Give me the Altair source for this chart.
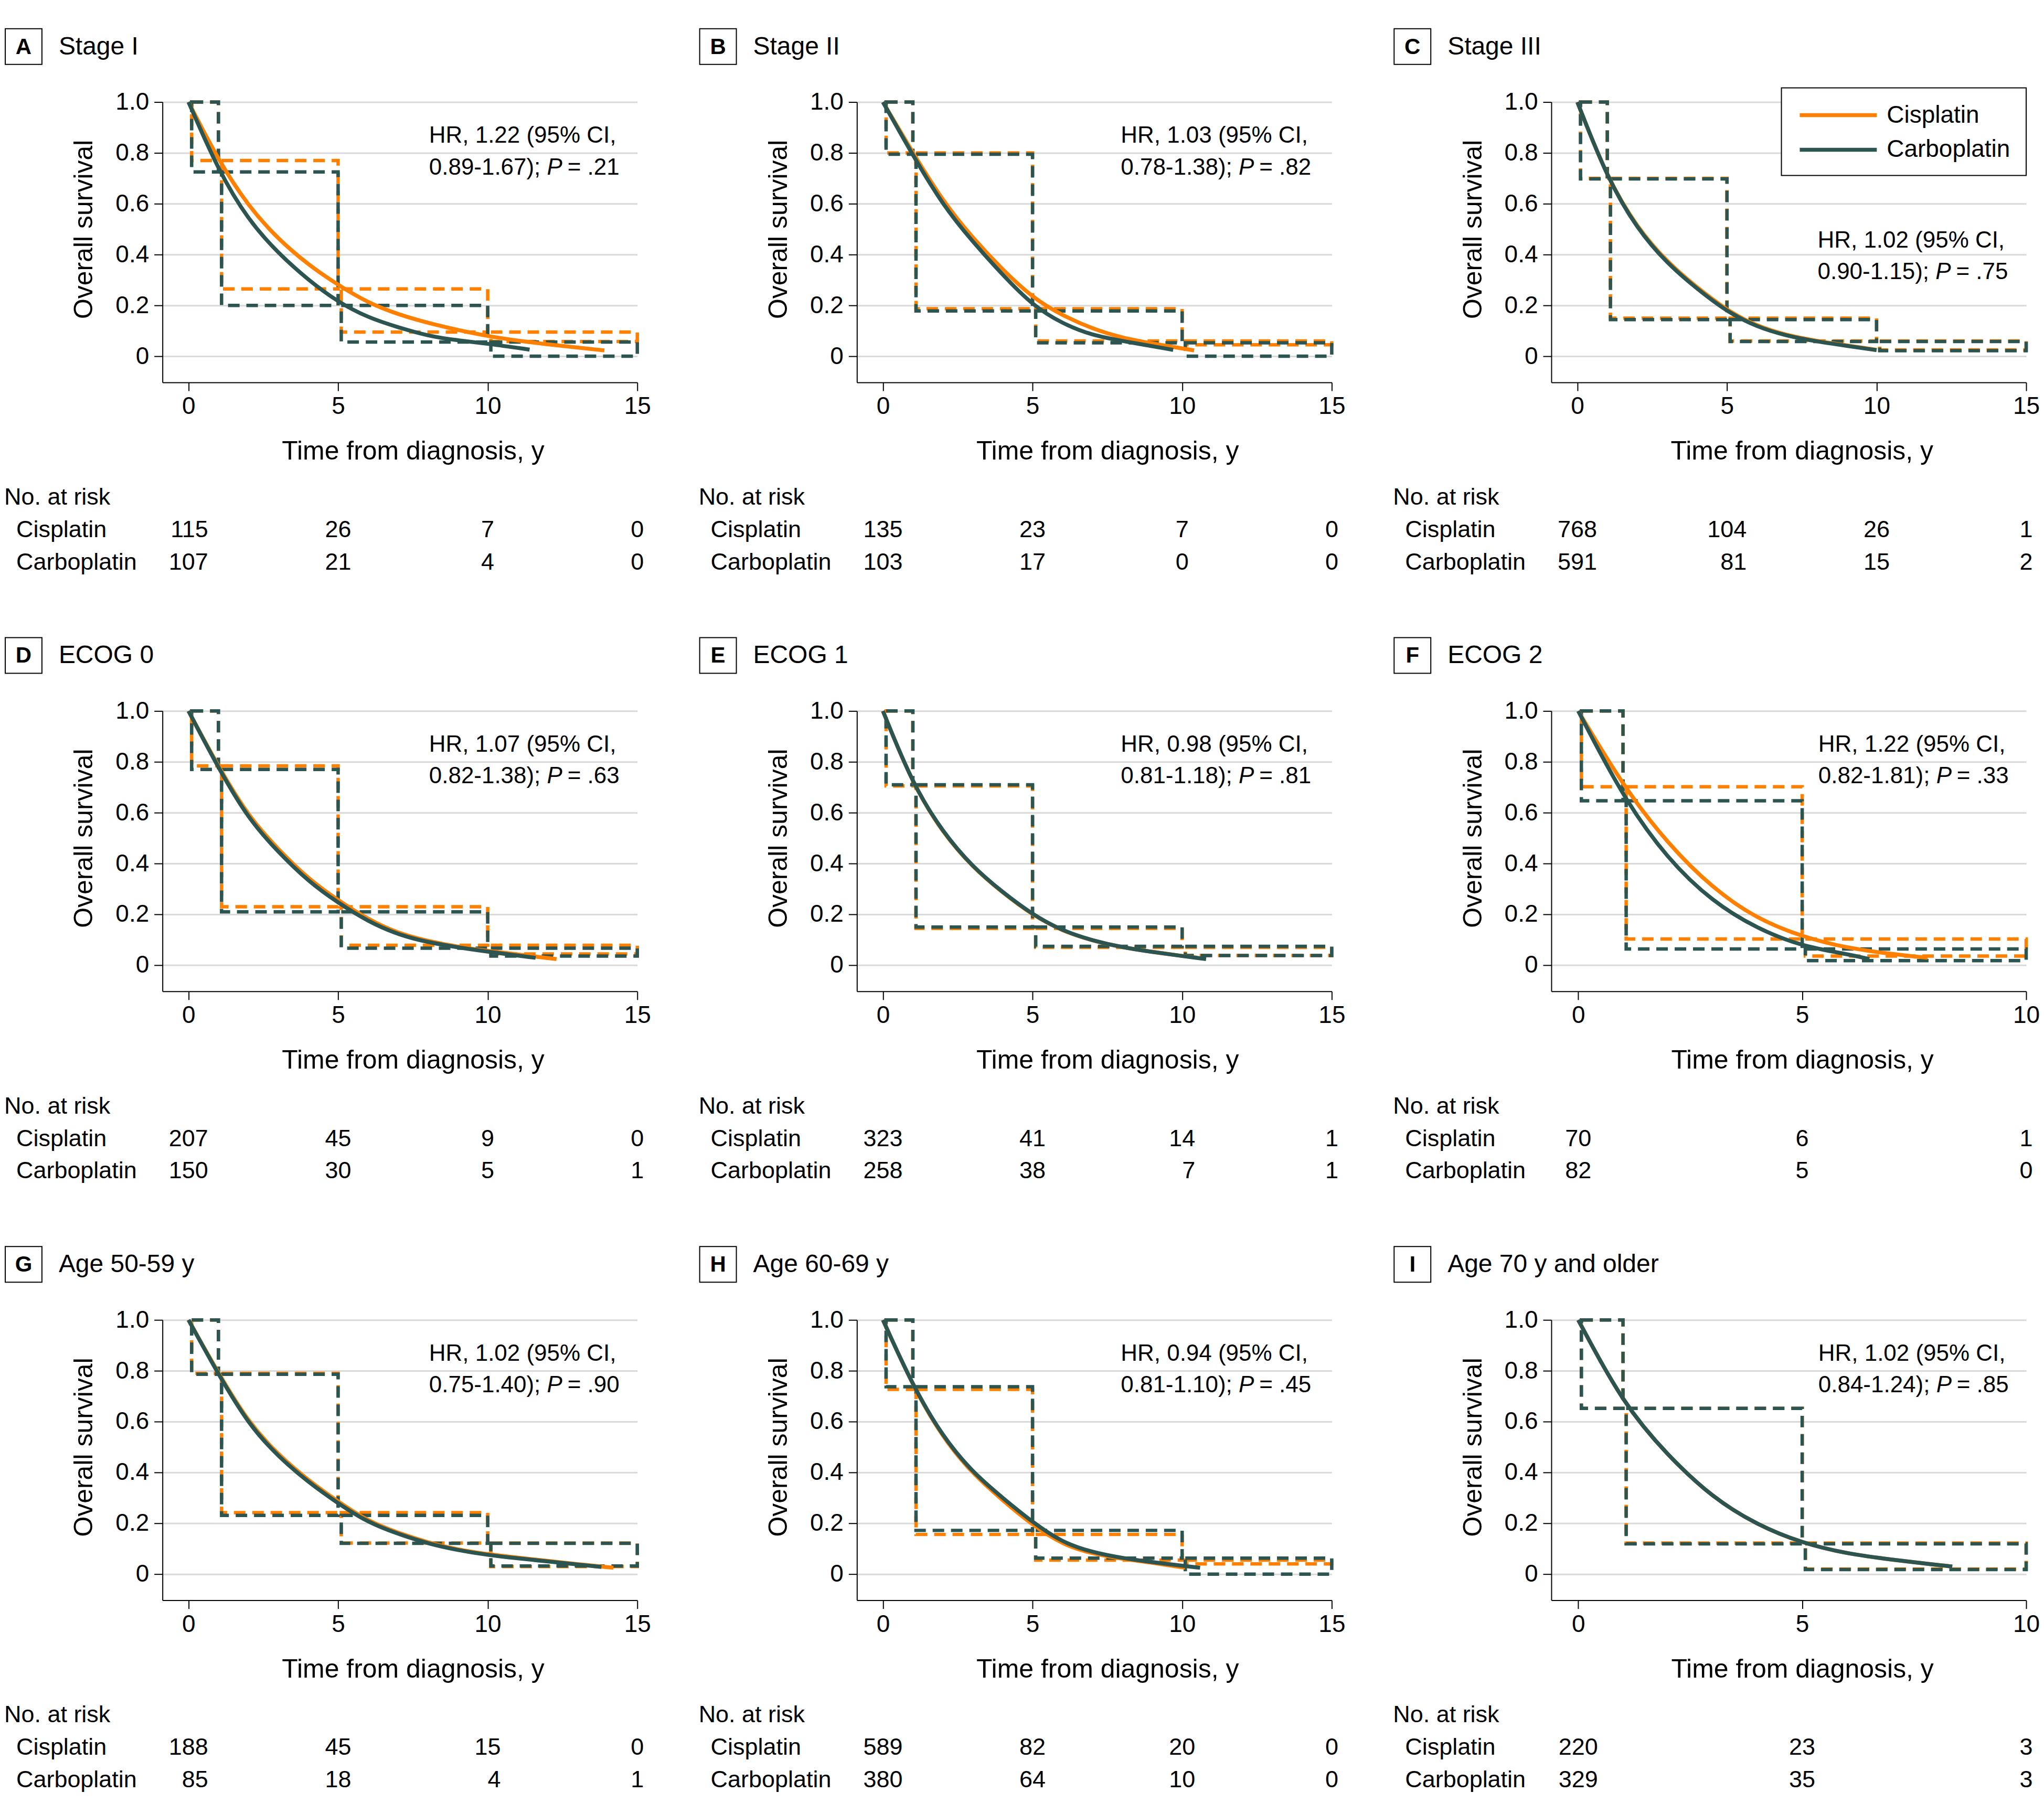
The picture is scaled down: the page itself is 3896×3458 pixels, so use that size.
import altair as alt
import pandas as pd

FONT = "Liberation Sans"
ORANGE = "#FF8000"
GREEN = "#2C5552"
GRID = "#D9D9D9"

W, H = 906, 535
Y_MIN, Y_MAX = -0.103, 1.0

# ---------------- data ----------------
letters = ["A", "B", "C", "D", "E", "F", "G", "H", "I"]
titles = ["Stage I", "Stage II", "Stage III", "ECOG 0", "ECOG 1", "ECOG 2",
          "Age 50-59 y", "Age 60-69 y", "Age 70 y and older"]
x_max = [15, 15, 15, 15, 15, 10, 15, 15, 10]
x_min = [-0.87, -0.87, -0.87, -0.87, -0.87, -0.6, -0.87, -0.87, -0.6]

hr_vals = ["1.22", "1.03", "1.02", "1.07", "0.98", "1.22", "1.02", "0.94", "1.02"]
ci_vals = ["0.89-1.67", "0.78-1.38", "0.90-1.15", "0.82-1.38", "0.81-1.18",
           "0.82-1.81", "0.75-1.40", "0.81-1.10", "0.84-1.24"]
p_vals = [".21", ".82", ".75", ".63", ".81", ".33", ".90", ".45", ".85"]
hr_x = [8.04, 7.95, 8.03, 8.04, 7.95, 5.36, 8.04, 7.95, 5.36]
hr_y1 = [0.866, 0.866, 0.454, 0.866, 0.866, 0.866, 0.866, 0.866, 0.866]
hr_y2 = [0.742, 0.742, 0.330, 0.742, 0.742, 0.742, 0.742, 0.742, 0.742]

step_breaks_15 = [0, 1, 5, 10, 15]
step_breaks_10 = [0, 1, 5, 10]

cis_steps = [
    [1.0, 0.77, 0.265, 0.095, 0.058],
    [1.0, 0.80, 0.187, 0.060, 0.045],
    [1.0, 0.70, 0.150, 0.060, 0.025],
    [1.0, 0.784, 0.230, 0.078, 0.044],
    [1.0, 0.705, 0.145, 0.070, 0.038],
    [1.0, 0.702, 0.103, 0.036],
    [1.0, 0.79, 0.242, 0.122, 0.030],
    [1.0, 0.727, 0.156, 0.055, 0.040],
    [1.0, 0.652, 0.122, 0.020],
]
carbo_steps = [
    [1.0, 0.725, 0.200, 0.056, 0.0],
    [1.0, 0.795, 0.178, 0.053, 0.0],
    [1.0, 0.698, 0.144, 0.058, 0.022],
    [1.0, 0.77, 0.210, 0.067, 0.036],
    [1.0, 0.71, 0.150, 0.074, 0.038],
    [1.0, 0.647, 0.064, 0.018],
    [1.0, 0.786, 0.231, 0.121, 0.032],
    [1.0, 0.737, 0.172, 0.063, 0.0],
    [1.0, 0.652, 0.119, 0.018],
]

cis_t = [
    [0, 1, 2, 3, 4, 5, 6, 7, 8, 10, 12, 13.9],
    [0, 1, 2, 3, 4, 5, 6, 7, 8, 9, 10.4],
    [0, 1, 2, 3, 4, 5, 6, 7, 8, 9, 10],
    [0, 1, 2, 3, 4, 5, 6, 7, 8, 9, 10, 12.3],
    [0, 1, 2, 3, 4, 5, 6, 7, 8, 9, 10, 10.5],
    [0, 1, 2, 3, 4, 5, 6, 7, 7.8],
    [0, 1, 2, 3, 4, 5, 6, 7, 8, 9, 10, 11, 12, 13, 14.2],
    [0, 1, 2, 3, 4, 5, 6, 7, 8, 9, 10.1],
    [0, 1, 2, 3, 4, 5, 6, 7, 8, 8.35],
]
cis_s = [
    [1, 0.77, 0.59, 0.46, 0.36, 0.28, 0.21, 0.165, 0.13, 0.076, 0.046, 0.023],
    [1, 0.80, 0.61, 0.465, 0.34, 0.23, 0.16, 0.108, 0.072, 0.05, 0.023],
    [1, 0.70, 0.505, 0.37, 0.27, 0.18, 0.118, 0.082, 0.06, 0.043, 0.025],
    [1, 0.78, 0.585, 0.455, 0.34, 0.255, 0.18, 0.125, 0.095, 0.072, 0.056, 0.024],
    [1, 0.71, 0.52, 0.385, 0.285, 0.197, 0.134, 0.096, 0.07, 0.052, 0.036, 0.03],
    [1, 0.705, 0.477, 0.302, 0.181, 0.112, 0.067, 0.044, 0.029],
    [1, 0.79, 0.597, 0.469, 0.369, 0.285, 0.208, 0.162, 0.124, 0.096, 0.078, 0.065, 0.052, 0.039, 0.025],
    [1, 0.74, 0.535, 0.395, 0.29, 0.193, 0.116, 0.08, 0.06, 0.045, 0.025],
    [1, 0.67, 0.466, 0.30, 0.193, 0.122, 0.08, 0.057, 0.036, 0.03],
]
carbo_t = [
    [0, 1, 2, 3, 4, 5, 6, 7, 8, 9, 10, 11.4],
    [0, 1, 2, 3, 4, 5, 6, 7, 8, 9.7],
    [0, 1, 2, 3, 4, 5, 6, 7, 8, 9, 10],
    [0, 1, 2, 3, 4, 5, 6, 7, 8, 9, 10, 11.6],
    [0, 1, 2, 3, 4, 5, 6, 7, 8, 9, 10, 10.8],
    [0, 1, 2, 3, 4, 5, 6, 6.5],
    [0, 1, 2, 3, 4, 5, 6, 7, 8, 9, 10, 11, 12, 13, 13.8],
    [0, 1, 2, 3, 4, 5, 6, 7, 8, 9, 10, 10.6],
    [0, 1, 2, 3, 4, 5, 6, 7, 8, 8.35],
]
carbo_s = [
    [1, 0.73, 0.535, 0.405, 0.30, 0.213, 0.152, 0.114, 0.08, 0.062, 0.05, 0.026],
    [1, 0.79, 0.595, 0.45, 0.32, 0.20, 0.128, 0.082, 0.06, 0.025],
    [1, 0.70, 0.50, 0.365, 0.265, 0.175, 0.115, 0.08, 0.058, 0.041, 0.024],
    [1, 0.775, 0.575, 0.445, 0.33, 0.245, 0.172, 0.12, 0.09, 0.07, 0.053, 0.029],
    [1, 0.71, 0.523, 0.386, 0.287, 0.199, 0.135, 0.097, 0.07, 0.052, 0.036, 0.024],
    [1, 0.66, 0.416, 0.249, 0.143, 0.074, 0.044, 0.024],
    [1, 0.785, 0.59, 0.462, 0.362, 0.278, 0.203, 0.158, 0.12, 0.094, 0.075, 0.062, 0.05, 0.038, 0.028],
    [1, 0.74, 0.54, 0.40, 0.30, 0.204, 0.124, 0.086, 0.063, 0.047, 0.033, 0.025],
    [1, 0.67, 0.466, 0.30, 0.193, 0.122, 0.08, 0.057, 0.036, 0.03],
]

risk_cis = [
    [115, 26, 7, 0], [135, 23, 7, 0], [768, 104, 26, 1],
    [207, 45, 9, 0], [323, 41, 14, 1], [70, 6, 1],
    [188, 45, 15, 0], [589, 82, 20, 0], [220, 23, 3],
]
risk_carbo = [
    [107, 21, 4, 0], [103, 17, 0, 0], [591, 81, 15, 2],
    [150, 30, 5, 1], [258, 38, 7, 1], [82, 5, 0],
    [85, 18, 4, 1], [380, 64, 10, 0], [329, 35, 3],
]

series_names = ["Cisplatin", "Carboplatin"]

# ---------------- styles ----------------
TICK_FS = 46
AXTITLE_FS = 50
TITLE_FS = 48
HR_FS = 44
RISK_FS = 45
DASH = [22, 13]
DASH_W = 6.5
CURVE_W = 7.5


def text_width(s, fs):
    w = {".": 0.278, "-": 0.333, ")": 0.333, "(": 0.333, ";": 0.278,
         " ": 0.278, "=": 0.584, "P": 0.667}
    return sum(w.get(c, 0.556) for c in s) * fs


def one(label="x"):
    return pd.DataFrame({"t": [label]})


def panel(i):
    xs = alt.Scale(domain=[x_min[i], x_max[i]], nice=False, zero=False)
    ys = alt.Scale(domain=[Y_MIN, Y_MAX], nice=False, zero=False)
    ppy = W / (x_max[i] - x_min[i])
    gap = 6 / ppy
    breaks = step_breaks_15 if x_max[i] == 15 else step_breaks_10
    ticks = breaks[:1] + breaks[2:]

    x_axis = alt.Axis(
        values=ticks, format="d", title="Time from diagnosis, y", grid=False,
        labelFontSize=TICK_FS, tickSize=16, tickWidth=2, domainWidth=2,
        labelPadding=8, labelFlush=False, labelOverlap=False,
        titleFontSize=AXTITLE_FS, titleFontWeight="normal",
        titleX=(x_max[i] / 2 - x_min[i]) * ppy, titleY=132,
        titleBaseline="middle", titleAlign="center")
    y_axis = alt.Axis(
        values=[0, 0.2, 0.4, 0.6, 0.8, 1.0], title="Overall survival",
        grid=True, gridColor=GRID, gridWidth=3,
        labelFontSize=TICK_FS, tickSize=16, tickWidth=2, domainWidth=2,
        labelPadding=10, labelFlush=False, labelOverlap=False,
        labelExpr="datum.value == 0 ? '0' : format(datum.value, '.1f')",
        titleFontSize=AXTITLE_FS, titleFontWeight="normal",
        titleX=-149, titleY=(Y_MAX - 0.5) / (Y_MAX - Y_MIN) * H,
        titleAngle=270, titleBaseline="middle", titleAlign="center")

    def X(field):
        return alt.X(field, scale=xs, axis=x_axis)

    def Y(field):
        return alt.Y(field, scale=ys, axis=y_axis)

    def rect_df(levels):
        rows = []
        for k in range(len(breaks) - 1):
            rows.append({"x1": breaks[k] + gap, "x2": breaks[k + 1],
                         "y1": levels[k], "y2": levels[k + 1]})
        return pd.DataFrame(rows)

    layers = []
    # dashed step boxes
    for steps, col in [(cis_steps[i], ORANGE), (carbo_steps[i], GREEN)]:
        layers.append(
            alt.Chart(rect_df(steps)).mark_rect(
                fillOpacity=0, stroke=col, strokeWidth=DASH_W, strokeDash=DASH
            ).encode(x=X("x1:Q"), x2="x2:Q", y=Y("y1:Q"), y2="y2:Q")
        )
    # curves
    for tt, ss, col in [(cis_t[i], cis_s[i], ORANGE), (carbo_t[i], carbo_s[i], GREEN)]:
        layers.append(
            alt.Chart(pd.DataFrame({"t": tt, "s": ss})).mark_line(
                color=col, strokeWidth=CURVE_W, interpolate="basis"
            ).encode(x=X("t:Q"), y=Y("s:Q"))
        )
    # HR annotation
    line1 = f"HR, {hr_vals[i]} (95% CI,"
    part_a = f"{ci_vals[i]});"
    part_c = f"= {p_vals[i]}"
    hr_df1 = pd.DataFrame({"x": [hr_x[i]], "y": [hr_y1[i]], "t": [line1]})
    hr_df2 = pd.DataFrame({"x": [hr_x[i]], "y": [hr_y2[i]]})
    layers.append(
        alt.Chart(hr_df1).mark_text(align="left", baseline="middle", fontSize=HR_FS,
                                    font=FONT, color="black").encode(
            x=X("x:Q"), y=Y("y:Q"), text="t:N")
    )
    space = text_width(" ", HR_FS)
    offsets = [0.0,
               text_width(part_a, HR_FS) + space,
               text_width(part_a, HR_FS) + space + text_width("P", HR_FS) + space * 0.8]
    for txt, style, off in zip([part_a, "P", part_c], ["normal", "italic", "normal"], offsets):
        layers.append(
            alt.Chart(hr_df2.assign(t=txt)).mark_text(
                align="left", baseline="middle", fontSize=HR_FS, font=FONT,
                fontStyle=style, color="black", dx=off
            ).encode(x=X("x:Q"), y=Y("y:Q"), text="t:N")
        )

    # number at risk table
    risk_times = ticks
    digit_w = 0.556 * RISK_FS
    for vals, ypix in [(risk_cis[i], 816), (risk_carbo[i], 878)]:
        xr = []
        for j, t in enumerate(risk_times):
            maxlen = max(len(str(risk_cis[i][j])), len(str(risk_carbo[i][j])))
            xr.append(t + (maxlen * digit_w / 2) / ppy)
        df = pd.DataFrame({"x": xr, "n": [str(v) for v in vals]})
        layers.append(
            alt.Chart(df).mark_text(align="right", baseline="middle", fontSize=RISK_FS,
                                    font=FONT, color="black").encode(
                x=X("x:Q"), y=alt.value(ypix), text="n:N")
        )
    for label, xp, yp in [("No. at risk", -302, 754), (series_names[0], -279, 816),
                          (series_names[1], -279, 878)]:
        layers.append(
            alt.Chart(one(label)).mark_text(align="left", baseline="middle", fontSize=RISK_FS,
                                            font=FONT, color="black").encode(
                x=alt.value(xp), y=alt.value(yp), text="t:N")
        )

    # panel letter box and title
    layers.append(
        alt.Chart(one()).mark_rect(fill="white", stroke="black", strokeWidth=2).encode(
            x=alt.value(-300), x2=alt.value(-230), y=alt.value(-140), y2=alt.value(-72))
    )
    layers.append(
        alt.Chart(one(letters[i])).mark_text(align="center", baseline="middle", fontSize=42,
                                             fontWeight="bold", font=FONT, color="black").encode(
            x=alt.value(-265), y=alt.value(-105), text="t:N")
    )
    layers.append(
        alt.Chart(one(titles[i])).mark_text(align="left", baseline="middle", fontSize=TITLE_FS,
                                            font=FONT, color="black").encode(
            x=alt.value(-198), y=alt.value(-105), text="t:N")
    )

    # legend (panel C only)
    if i == 2:
        layers.append(
            alt.Chart(one()).mark_rect(fill="white", stroke="black", strokeWidth=2).encode(
                x=alt.value(439), x2=alt.value(W), y=alt.value(-27), y2=alt.value(140))
        )
        for name, col, yp in [(series_names[0], ORANGE, 25), (series_names[1], GREEN, 91)]:
            layers.append(
                alt.Chart(one(name)).mark_rule(color=col, strokeWidth=CURVE_W).encode(
                    x=alt.value(474), x2=alt.value(621), y=alt.value(yp))
            )
            layers.append(
                alt.Chart(one(name)).mark_text(align="left", baseline="middle", fontSize=46,
                                               font=FONT, color="black").encode(
                    x=alt.value(640), y=alt.value(yp), text="t:N")
            )

    return alt.layer(*layers).properties(width=W, height=H)


panels = [panel(i) for i in range(9)]

chart = alt.concat(*panels, columns=3, spacing={"row": 627, "column": 419}, bounds="flush")
chart = chart.resolve_scale(x="independent", y="independent").properties(
    padding={"top": 44, "left": 0, "right": 0, "bottom": 0},
    background="white",
).configure_view(stroke=None).configure_axis(
    labelFont=FONT, titleFont=FONT, labelColor="black", titleColor="black",
    domainColor="black", tickColor="black",
).configure_text(font=FONT)

chart.save("out.html", embed_options={"renderer": "svg", "actions": False})
